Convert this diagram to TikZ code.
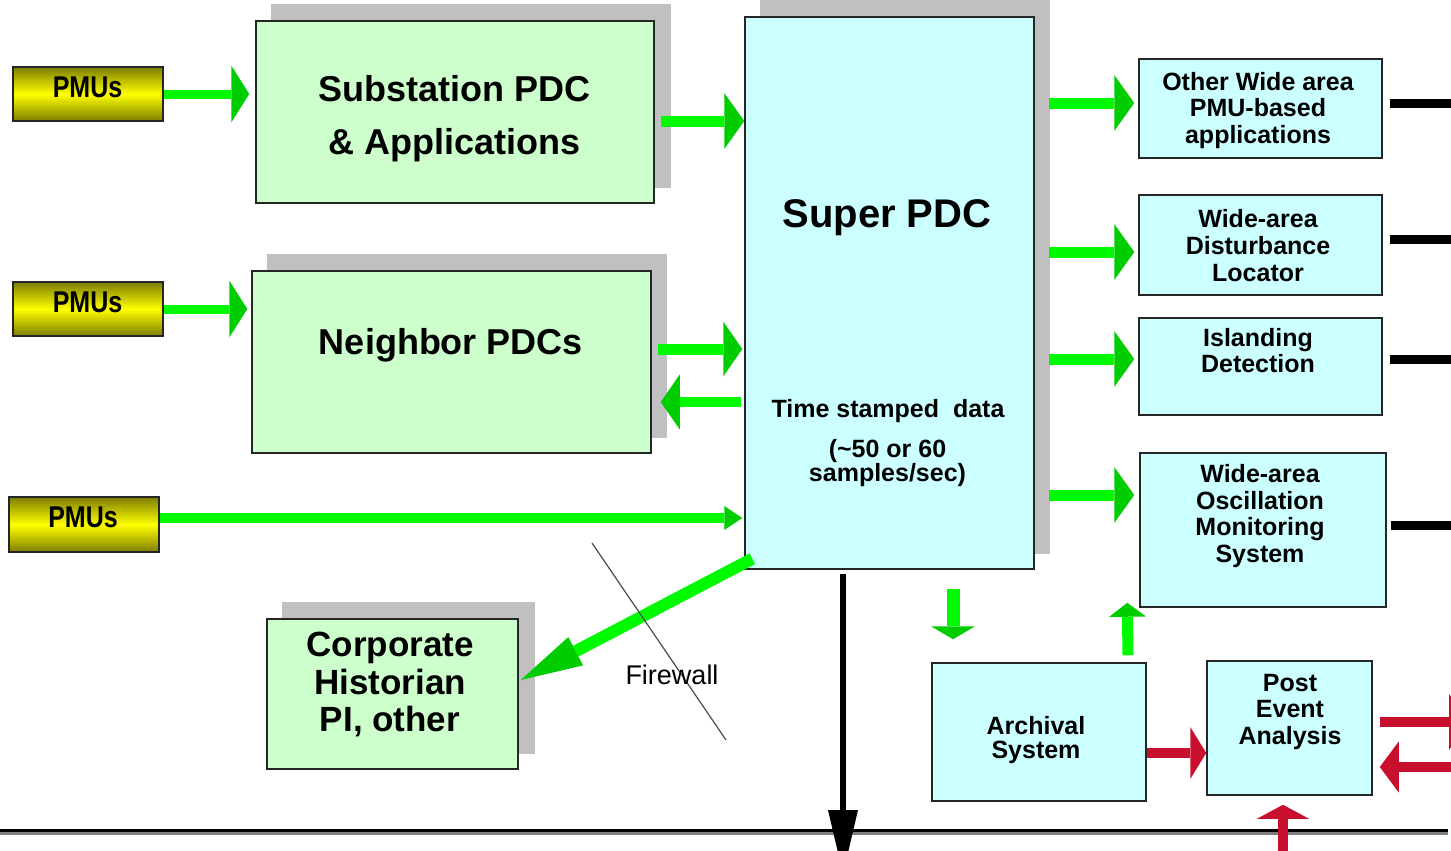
\documentclass[tikz,border=0pt]{standalone}
\usepackage{fontspec}
\setmainfont{Liberation Sans}
\usepackage{graphicx}
\usetikzlibrary{arrows.meta,calc,backgrounds}
\definecolor{boxgreen}{RGB}{204,255,204}
\definecolor{boxcyan}{RGB}{204,255,255}
\definecolor{shadowgray}{RGB}{192,192,192}
\definecolor{arrowgreen}{RGB}{0,250,0}
\definecolor{headgreen}{RGB}{0,205,0}
\definecolor{arrowred}{RGB}{200,16,46}
\definecolor{pmuyellow}{RGB}{255,255,0}
\definecolor{pmudark}{RGB}{125,125,0}
\begin{document}
\begin{tikzpicture}[x=1pt,y=-1pt,
  box/.style={draw=black!85, line width=1.5pt, inner sep=0pt},
  gbox/.style={box, fill=boxgreen},
  cbox/.style={box, fill=boxcyan},
  pmubox/.style={box, top color=pmudark, bottom color=pmudark, middle color=pmuyellow, minimum width=150pt},
  txt/.style={inner sep=0pt, align=center, text=black},
  garrow/.style={draw=arrowgreen, line width=11pt, -{Triangle[length=20pt,width=56pt,color=headgreen,line width=0pt]}},
  rarrow/.style={draw=arrowred, line width=10pt, -{Triangle[length=17pt,width=52pt,color=arrowred,line width=0pt]}},
  blackline/.style={draw=black, line width=9pt},
]
\useasboundingbox (0,0) rectangle (1451,851);
\clip (0,0) rectangle (1451,851);

% ---- boxes ----
\node[pmubox, minimum height=54pt] (pmu1) at (88,94) {};
\node[pmubox, minimum height=54pt] (pmu2) at (88,309) {};
\node[pmubox, minimum height=55pt] (pmu3) at (84,524.5) {};
\node[gbox, minimum width=398pt, minimum height=182pt] (sub) at (455,112) {};
\node[gbox, minimum width=399pt, minimum height=182pt] (nbr) at (451.5,362) {};
\node[cbox, minimum width=289pt, minimum height=552pt] (spdc) at (889.5,293) {};
\node[gbox, minimum width=251pt, minimum height=150pt] (corp) at (392.5,694) {};
\node[cbox, minimum width=243pt, minimum height=99pt] (owa) at (1260.5,108.5) {};
\node[cbox, minimum width=243pt, minimum height=100pt] (wdl) at (1260.5,245) {};
\node[cbox, minimum width=243pt, minimum height=97pt] (isl) at (1260.5,366.5) {};
\node[cbox, minimum width=246pt, minimum height=154pt] (osc) at (1263,530) {};
\node[cbox, minimum width=214pt, minimum height=138pt] (arch) at (1039,732) {};
\node[cbox, minimum width=165pt, minimum height=134pt] (pea) at (1289.5,728) {};

% ---- shadows ----
\begin{scope}[on background layer]
\fill[shadowgray] ($(sub.south west)+(16,-16)$) rectangle ($(sub.north east)+(16,-16)$);
\fill[shadowgray] ($(nbr.south west)+(15.5,-16)$) rectangle ($(nbr.north east)+(15.5,-16)$);
\fill[shadowgray] ($(spdc.south west)+(15.5,-16)$) rectangle ($(spdc.north east)+(15.5,-16)$);
\fill[shadowgray] ($(corp.south west)+(16,-16)$) rectangle ($(corp.north east)+(16,-16)$);
\end{scope}

% ---- texts ----
\node[txt, anchor=base, font=\bfseries\fontsize{25}{25}\selectfont] (pmu1T) at (87.5,97) {\scalebox{1}[1.2]{PMUs}};
\node[txt, anchor=base, font=\bfseries\fontsize{25}{25}\selectfont] (pmu2T) at (87.5,312) {\scalebox{1}[1.2]{PMUs}};
\node[txt, anchor=base, font=\bfseries\fontsize{25}{25}\selectfont] (pmu3T) at (83,527) {\scalebox{1}[1.2]{PMUs}};
\node[txt, anchor=north, font=\bfseries\fontsize{36}{53}\selectfont] (subT) at (454.5,75) {Substation PDC\\\& Applications};
\node[txt, anchor=base, font=\bfseries\fontsize{36}{36}\selectfont] (nbrT) at (451,354) {Neighbor PDCs};
\node[txt, anchor=base, font=\bfseries\fontsize{40}{40}\selectfont] (spdcT) at (887,227) {Super PDC};
\node[txt, anchor=base, font=\bfseries\fontsize{25}{25}\selectfont] (timeT) at (888,417) {Time stamped\ \ data};
\node[txt, anchor=north, font=\bfseries\fontsize{25}{21}\selectfont] (rateT) at (887.5,439) {(\textasciitilde 50 or 60\\samples/sec)};
\node[txt, anchor=north, font=\bfseries\fontsize{35}{37.5}\selectfont] (corpT) at (390,632) {Corporate\\Historian\\PI, other};
\node[txt, anchor=north, font=\bfseries\fontsize{25}{26.5}\selectfont] (owaT) at (1258,72) {Other Wide area\\PMU-based\\applications};
\node[txt, anchor=north, font=\bfseries\fontsize{25}{27}\selectfont] (wdlT) at (1258,209) {Wide-area\\Disturbance\\Locator};
\node[txt, anchor=north, font=\bfseries\fontsize{25}{26}\selectfont] (islT) at (1258,328) {Islanding\\Detection};
\node[txt, anchor=north, font=\bfseries\fontsize{25}{26.7}\selectfont] (oscT) at (1260,464) {Wide-area\\Oscillation\\Monitoring\\System};
\node[txt, anchor=north, font=\bfseries\fontsize{25}{24}\selectfont] (archT) at (1036,716) {Archival\\System};
\node[txt, anchor=north, font=\bfseries\fontsize{25}{26.5}\selectfont] (peaT) at (1290,674) {Post\\Event\\Analysis};

% ---- free ends ----
\coordinate (owaR) at (1451,103);
\coordinate (wdlR) at (1451,239);
\coordinate (islR) at (1451,359);
\coordinate (oscR) at (1451,525);
\coordinate (busdown) at (843,874);
\coordinate (busL) at (0,830);
\coordinate (busR) at (1448,830);
\coordinate (peaOut) at (1469,722);
\coordinate (peaIn) at (1460,767);
\coordinate (peaUp) at (1283,860);
\coordinate (fwA) at (592,543);
\coordinate (fwB) at (726,740);

% ---- bus ----
\draw[draw=black!50, line width=5pt] ($(busL)+(0,2.5)$) -- ($(busR)+(0,2.5)$);
\draw[draw=black, line width=3pt] (busL) -- (busR);

% ---- green arrows ----
\draw[garrow, line width=9pt, -{Triangle[length=18pt,width=57pt,color=headgreen,line width=0pt]}] (pmu1.east) -- ($(pmu1.east -| sub.west)+(-6,0)$);
\draw[garrow, line width=9pt, -{Triangle[length=18pt,width=57pt,color=headgreen,line width=0pt]}] (pmu2.east) -- ($(pmu2.east -| nbr.west)+(-4,0)$);
\draw[garrow, line width=10pt, -{Triangle[length=18pt,width=24pt,color=headgreen,line width=0pt]}] ($(pmu3.east)+(0,-6.5)$) -- ($(pmu3.east -| spdc.west)+(-2,-6.5)$);
\draw[garrow] ($(sub.east)+(6,9)$) -- ($(sub.east -| spdc.west)+(0,9)$);
\draw[garrow, -{Triangle[length=19pt,width=55pt,color=headgreen,line width=0pt]}] ($(nbr.east)+(6,-13)$) -- ($(nbr.east -| spdc.west)+(-2,-13)$);
\draw[garrow, line width=10pt, -{Triangle[length=19pt,width=55pt,color=headgreen,line width=0pt]}] ($(nbr.east -| spdc.west)+(-3,40)$) -- ($(nbr.east)+(9,40)$);
\draw[garrow] ($(owa.west -| spdc.east)+(14,-5.5)$) -- ($(owa.west)+(-4,-5.5)$);
\draw[garrow] ($(wdl.west -| spdc.east)+(14,7)$) -- ($(wdl.west)+(-4,7)$);
\draw[garrow] ($(isl.west -| spdc.east)+(14,-7.5)$) -- ($(isl.west)+(-4,-7.5)$);
\draw[garrow] ($(osc.west -| spdc.east)+(14,-35)$) -- ($(osc.west)+(-5,-35)$);
\draw[garrow, line width=12pt, -{Triangle[length=62pt,width=32pt,color=headgreen,line width=0pt]}] ($(spdc.south west)+(8,-11)$) -- ($(corp.east)+(2,-14)$);
\draw[garrow, line width=13pt, -{Triangle[length=13pt,width=44pt,color=headgreen,line width=0pt]}] ($(spdc.south)+(63.5,19)$) -- ($(arch.north)+(-86,-23)$);
\draw[garrow, line width=11pt, -{Triangle[length=14pt,width=37pt,color=headgreen,line width=0pt]}] ($(arch.north)+(89,-7)$) -- ($(osc.south west)+(-12,-5)$);

% ---- black lines and arrow ----
\draw[blackline] ($(owa.east)+(7,-5.5)$) -- (owaR);
\draw[blackline] ($(wdl.east)+(7,-6)$) -- (wdlR);
\draw[blackline] ($(isl.east)+(7,-7.5)$) -- (islR);
\draw[blackline] ($(osc.east)+(4,-5)$) -- (oscR);
\draw[draw=black, line width=6pt, -{Triangle[length=64pt,width=30pt,line width=0pt]}] ($(spdc.south)+(-46.5,4)$) -- (busdown);

% ---- red arrows ----
\draw[rarrow, -{Triangle[length=16pt,width=52pt,color=arrowred,line width=0pt]}] ($(arch.east)+(0,21)$) -- ($(arch.east -| pea.west)+(0,21)$);
\draw[rarrow, -{Triangle[length=20pt,width=56pt,color=arrowred,line width=0pt]}] ($(pea.east)+(7,-6)$) -- (peaOut);
\draw[rarrow, -{Triangle[length=19pt,width=51pt,color=arrowred,line width=0pt]}] (peaIn) -- ($(pea.east)+(7,39)$);
\draw[rarrow, -{Triangle[length=14pt,width=52pt,color=arrowred,line width=0pt]}] (peaUp) -- ($(pea.south)+(-6.5,9)$);

% ---- firewall ----
\draw[draw=black!70, line width=1.2pt] (fwA) -- (fwB);
\node[txt, anchor=base, font=\fontsize{27}{27}\selectfont] (fwT) at (672,684) {Firewall};
\end{tikzpicture}
\end{document}
